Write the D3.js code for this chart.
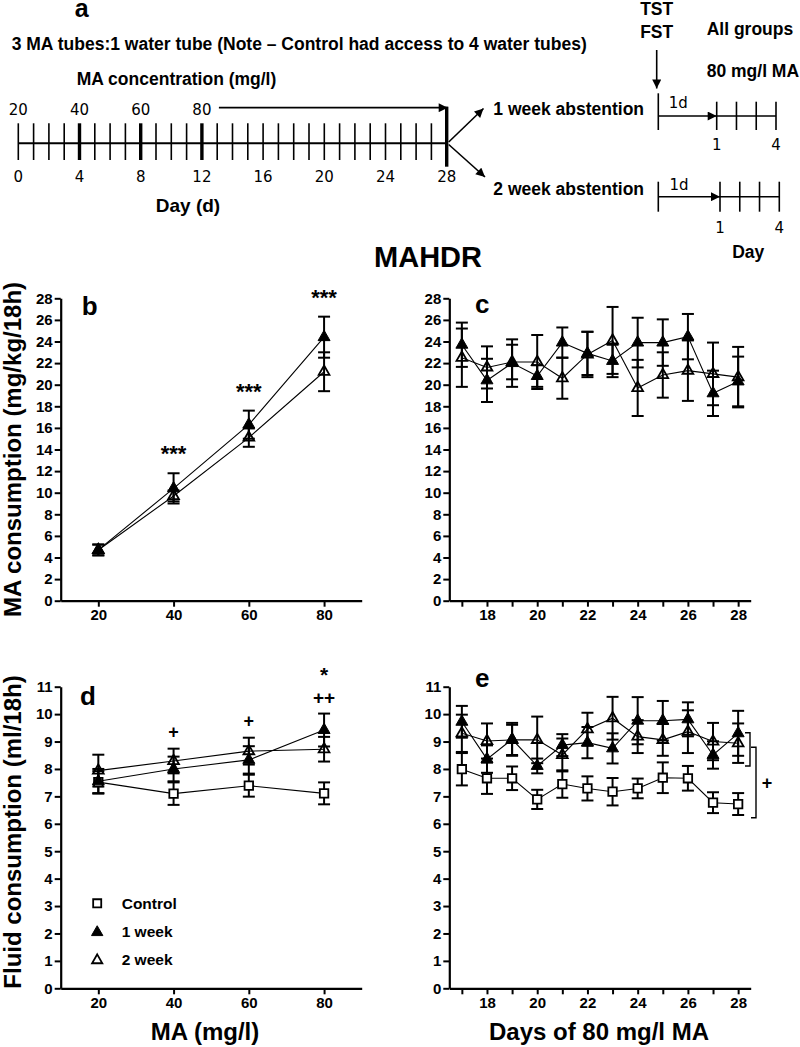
<!DOCTYPE html>
<html><head><meta charset="utf-8">
<script src="https://cdn.jsdelivr.net/npm/d3@7"></script>
<style>
html,body{margin:0;padding:0;background:#fff;}
svg{display:block;font-family:"Liberation Sans",Arial,Helvetica,sans-serif;}
</style></head><body>
<svg id="chart" width="800" height="1047"></svg>
<script>
// ---------------- DATA ----------------
// panel a (timeline)
const timelineDays = d3.range(0, 29);
const boldDays = [4, 8, 12];
const concLabels = ["20", "40", "60", "80"];
const concDays = [0, 4, 8, 12];
const dayLabels = [0, 4, 8, 12, 16, 20, 24, 28];
const testDays = [1, 2, 3, 4];
const testDayLabels = [1, 4];

// panels b & d (x = MA concentration)
const doseLevels = [20, 40, 60, 80];
const bWeek1 = [4.7, 10.4, 16.3, 24.4];
const bWeek1Sem = [0.5, 1.4, 1.3, 1.9];
const bWeek2 = [4.7, 9.7, 15.1, 21.2];
const bWeek2Sem = [0.5, 0.5, 0.85, 1.8];
const bStarDoses = [40, 60, 80];
const bStarText = ["***", "***", "***"];

const dControl = [7.52, 7.10, 7.39, 7.11];
const dControlSem = [0.40, 0.41, 0.40, 0.40];
const dWeek1 = [7.55, 8.00, 8.33, 9.42];
const dWeek1Sem = [0.45, 0.45, 0.50, 0.60];
const dWeek2 = [7.94, 8.29, 8.65, 8.72];
const dWeek2Sem = [0.58, 0.45, 0.49, 0.45];
const dMarkDoses = [40, 60, 80];
const dMarkRows = [["+"], ["+"], ["++", "*"]];

// panels c & e (x = day of 80 mg/l MA)
const maDays = [17, 18, 19, 20, 21, 22, 23, 24, 25, 26, 27, 28];
const cWeek1 = [23.7, 20.4, 22.0, 20.8, 23.9, 22.9, 22.2, 23.9, 23.9, 24.45, 19.2, 20.3];
const cWeek1Sem = [2.05, 2.0, 2.2, 1.0, 1.4, 2.0, 1.5, 2.3, 2.15, 2.1, 2.1, 2.3];
const cWeek2 = [22.5, 21.6, 22.1, 22.1, 20.6, 22.8, 24.1, 19.7, 20.9, 21.3, 21.0, 20.7];
const cWeek2Sem = [2.7, 1.95, 1.6, 2.5, 1.9, 2.1, 3.1, 2.6, 2.1, 2.8, 2.9, 2.8];

const eControl = [7.99, 7.66, 7.66, 6.89, 7.45, 7.29, 7.17, 7.29, 7.68, 7.66, 6.77, 6.72];
const eControlSem = [0.59, 0.57, 0.43, 0.35, 0.5, 0.44, 0.5, 0.36, 0.56, 0.45, 0.38, 0.4];
const eWeek1 = [9.72, 8.36, 9.08, 8.11, 8.87, 8.96, 8.75, 9.76, 9.76, 9.81, 8.51, 9.30];
const eWeek1Sem = [0.58, 0.5, 0.6, 0.27, 0.4, 0.57, 0.55, 0.86, 0.72, 0.62, 0.5, 0.82];
const eWeek2 = [9.30, 9.02, 9.06, 9.06, 8.51, 9.45, 9.85, 9.18, 9.06, 9.36, 9.00, 8.94];
const eWeek2Sem = [0.68, 0.64, 0.55, 0.85, 0.6, 0.6, 0.78, 0.6, 0.58, 0.78, 0.68, 0.72];
// bracket spans (data units) in panel e
const eBracketSmall = [9.32, 8.11];
const eBracketLarge = [8.79, 6.22];

const legendNames = ["Control", "1 week", "2 week"];
const legendTypes = ["square", "filled", "open"];

// ---------------- DRAW ----------------
const svg = d3.select("#chart");
svg.append("rect").attr("width", 800).attr("height", 1047).attr("fill", "#fff");
const FONT = '"Liberation Sans", Arial, Helvetica, sans-serif';
const RFONT = '"DejaVu Sans", Verdana, sans-serif';

const defs = svg.append("defs");
defs.append("marker").attr("id", "arr")
  .attr("viewBox", "0 0 10 10").attr("refX", 10).attr("refY", 5)
  .attr("markerWidth", 10).attr("markerHeight", 9)
  .attr("markerUnits", "userSpaceOnUse").attr("orient", "auto")
  .append("path").attr("d", "M0,0L10,5L0,10z").attr("fill", "#000");

function txt(g, x, y, s, size, weight, anchor, family) {
  return g.append("text").attr("x", x).attr("y", y).text(s)
    .attr("font-size", size).attr("font-weight", weight || "bold")
    .attr("text-anchor", anchor || "start")
    .attr("font-family", family || FONT).attr("fill", "#000");
}
function arrow(g, x1, y1, x2, y2, w) {
  g.append("line").attr("x1", x1).attr("y1", y1).attr("x2", x2).attr("y2", y2)
    .attr("stroke", "#000").attr("stroke-width", w || 1.6).attr("marker-end", "url(#arr)");
}
function vline(g, x, y1, y2, w) {
  g.append("line").attr("x1", x).attr("x2", x).attr("y1", y1).attr("y2", y2)
    .attr("stroke", "#000").attr("stroke-width", w || 1.6);
}

// ----- Panel a -----
const ga = svg.append("g");
txt(ga, 81.7, 17, "a", 25, "bold", "middle");
txt(ga, 11.7, 50, "3 MA tubes:1 water tube (Note \u2013 Control had access to 4 water tubes)", 17.5);
txt(ga, 76.7, 85, "MA concentration (mg/l)", 17.5);
const xa = d3.scaleLinear().domain([0, 28]).range([18.3, 446.7]);
const tlY = 143.3;
ga.append("line").attr("x1", xa(0)).attr("x2", xa(28)).attr("y1", tlY).attr("y2", tlY)
  .attr("stroke", "#000").attr("stroke-width", 2);
timelineDays.forEach(d => {
  if (d === 28) { vline(ga, xa(d), 106.7, 166.7, 3.4); return; }
  vline(ga, xa(d), 123.3, 160, boldDays.includes(d) ? 3.4 : 1.6);
});
concLabels.forEach((s, i) => txt(ga, xa(concDays[i]), 115, s, 15, "normal", "middle", RFONT));
dayLabels.forEach(d => txt(ga, xa(d), 181.7, String(d), 15, "normal", "middle", RFONT));
txt(ga, 188, 211.7, "Day (d)", 19, "bold", "middle");
arrow(ga, xa(12) + 17, 107.7, xa(28) + 1, 107.7, 1.8);
arrow(ga, xa(28) + 2, 142, 483.5, 108.5, 1.6);
arrow(ga, xa(28) + 2, 144.5, 485, 177, 1.6);
txt(ga, 493.3, 115, "1 week abstention", 17.5);
txt(ga, 493.3, 195, "2 week abstention", 17.5);
txt(ga, 656.7, 15, "TST", 17.5, "bold", "middle");
txt(ga, 656.7, 38.3, "FST", 17.5, "bold", "middle");
arrow(ga, 656.7, 50, 656.7, 88.5, 1.6);
txt(ga, 706.7, 35, "All groups", 17.5);
txt(ga, 706.7, 76.7, "80 mg/l MA", 17.5);
// 1 week test timeline
const xs1 = d3.scaleLinear().domain([1, 4]).range([716.7, 776]);
vline(ga, 658.3, 93.3, 130);
arrow(ga, 658.3, 116, xs1(1), 116, 1.6);
txt(ga, 678.3, 108.3, "1d", 15, "normal", "middle", RFONT);
ga.append("line").attr("x1", xs1(1)).attr("x2", xs1(4)).attr("y1", 116).attr("y2", 116).attr("stroke", "#000").attr("stroke-width", 1.6);
testDays.forEach(d => vline(ga, xs1(d), 101.7, 130));
testDayLabels.forEach(d => txt(ga, xs1(d), 150, String(d), 15, "normal", "middle", RFONT));
// 2 week test timeline
const xs2 = d3.scaleLinear().domain([1, 4]).range([720, 779.3]);
vline(ga, 658.3, 181.7, 211.7);
arrow(ga, 658.3, 196.7, xs2(1), 196.7, 1.6);
txt(ga, 679, 190, "1d", 15, "normal", "middle", RFONT);
ga.append("line").attr("x1", xs2(1)).attr("x2", xs2(4)).attr("y1", 196.7).attr("y2", 196.7).attr("stroke", "#000").attr("stroke-width", 1.6);
testDays.forEach(d => vline(ga, xs2(d), 181.7, 211.7));
testDayLabels.forEach(d => txt(ga, xs2(d), 233.3, String(d), 15, "normal", "middle", RFONT));
txt(ga, 748.3, 258.3, "Day", 17.5, "bold", "middle");

// title
txt(svg, 428, 267, "MAHDR", 29, "bold", "middle");

// ----- panel helper -----
function drawMarker(g, type, cx, cy, scale) {
  const s = scale || 1;
  if (type === "square") {
    g.append("path").attr("d", d3.symbol().type(d3.symbolSquare).size(72 * s * s)())
      .attr("transform", `translate(${cx},${cy})`).attr("fill", "#fff").attr("stroke", "#000").attr("stroke-width", 1.8);
  } else if (type === "filled") {
    g.append("path").attr("d", d3.symbol().type(d3.symbolTriangle).size(62 * s * s)())
      .attr("transform", `translate(${cx},${cy})`).attr("fill", "#000").attr("stroke", "#000").attr("stroke-width", 1);
  } else {
    g.append("path").attr("d", d3.symbol().type(d3.symbolTriangle).size(50 * s * s)())
      .attr("transform", `translate(${cx},${cy})`).attr("fill", "none").attr("stroke", "#000").attr("stroke-width", 1.8);
  }
}

function drawPanel(opt) {
  const x = d3.scaleLinear().domain(opt.xDomain).range(opt.xRange);
  const y = d3.scaleLinear().domain(opt.yDomain).range(opt.yRange);
  const g = svg.append("g");
  const yAxis = d3.axisLeft(y).tickValues(opt.yTicks).tickSize(6).tickSizeOuter(0).tickPadding(2).tickFormat(d3.format("d"));
  g.append("g").attr("transform", `translate(${opt.xRange[0]},0)`).call(yAxis);
  const xAxis = d3.axisBottom(x).tickValues(opt.xTicks).tickSize(6).tickSizeOuter(0).tickPadding(3)
    .tickFormat(d => opt.xLabels.includes(d) ? String(d) : "");
  g.append("g").attr("transform", `translate(0,${opt.yRange[0]})`).call(xAxis);
  g.selectAll(".domain").attr("stroke", "#000").attr("stroke-width", 2.2);
  g.selectAll(".tick line").attr("stroke", "#000").attr("stroke-width", 2);
  g.selectAll(".tick text").attr("font-size", 15).attr("font-weight", "bold")
    .attr("font-family", FONT).attr("fill", "#000");

  const line = d3.line().x((d, i) => x(opt.xs[i])).y(d => y(d));
  opt.series.forEach(s => {
    g.append("path").attr("d", line(s.vals)).attr("fill", "none").attr("stroke", "#000").attr("stroke-width", 1.1);
  });
  opt.series.forEach(s => {
    s.vals.forEach((v, i) => {
      const cx = x(opt.xs[i]), hi = y(v + s.sem[i]), lo = y(v - s.sem[i]);
      g.append("line").attr("x1", cx).attr("x2", cx).attr("y1", hi).attr("y2", lo).attr("stroke", "#000").attr("stroke-width", 2);
      [hi, lo].forEach(yy => g.append("line").attr("x1", cx - 6).attr("x2", cx + 6).attr("y1", yy).attr("y2", yy)
        .attr("stroke", "#000").attr("stroke-width", 2));
    });
  });
  opt.series.forEach(s => {
    s.vals.forEach((v, i) => drawMarker(g, s.type, x(opt.xs[i]), y(v)));
  });
  txt(g, opt.label[1], opt.label[2], opt.label[0], 26, "bold", "start");
  return { x, y, g };
}

const bc_y = [600.7, 298.3];
const de_y = [988.3, 686.7];
const leftX = [60.7, 361.7];
const rightX = [449.3, 750.7];
const tick28 = d3.range(0, 29, 2);
const tick11 = d3.range(0, 12, 1);

// ----- panel b -----
const pb = drawPanel({
  xDomain: [10, 90], xRange: leftX, yDomain: [0, 28], yRange: bc_y,
  yTicks: tick28, xTicks: doseLevels, xLabels: doseLevels, xs: doseLevels,
  series: [
    { vals: bWeek2, sem: bWeek2Sem, type: "open" },
    { vals: bWeek1, sem: bWeek1Sem, type: "filled" }
  ],
  label: ["b", 81.7, 315]
});
bStarDoses.forEach((d, k) => {
  const i = doseLevels.indexOf(d);
  const top = Math.min(pb.y(bWeek1[i] + bWeek1Sem[i]), pb.y(bWeek2[i] + bWeek2Sem[i]));
  txt(pb.g, pb.x(d), top - 24 + 12, bStarText[k], 22, "bold", "middle");
});

// ----- panel c -----
drawPanel({
  xDomain: [16.5, 28.5], xRange: rightX, yDomain: [0, 28], yRange: bc_y,
  yTicks: tick28, xTicks: maDays, xLabels: maDays.filter(d => d % 2 === 0), xs: maDays,
  series: [
    { vals: cWeek2, sem: cWeek2Sem, type: "open" },
    { vals: cWeek1, sem: cWeek1Sem, type: "filled" }
  ],
  label: ["c", 475, 313.3]
});

// ----- panel d -----
const pd = drawPanel({
  xDomain: [10, 90], xRange: leftX, yDomain: [0, 11], yRange: de_y,
  yTicks: tick11, xTicks: doseLevels, xLabels: doseLevels, xs: doseLevels,
  series: [
    { vals: dControl, sem: dControlSem, type: "square" },
    { vals: dWeek2, sem: dWeek2Sem, type: "open" },
    { vals: dWeek1, sem: dWeek1Sem, type: "filled" }
  ],
  label: ["d", 80, 705]
});
dMarkDoses.forEach((d, k) => {
  const i = doseLevels.indexOf(d);
  const top = Math.min(pd.y(dWeek1[i] + dWeek1Sem[i]), pd.y(dWeek2[i] + dWeek2Sem[i]));
  dMarkRows[k].forEach((s, r) => {
    if (s.includes("*")) {
      const cy = top - 43;
      txt(pd.g, pd.x(d), cy + 11.5, s, 21, "bold", "middle");
    } else {
      const cy = r === 0 && s.length > 1 ? top - 16 : top - 17.5;
      txt(pd.g, pd.x(d), cy + 6.5, s, s.length > 1 ? 19 : 18, "bold", "middle");
    }
  });
});
// legend
legendNames.forEach((n, i) => {
  const cy = 903.3 + i * 28;
  drawMarker(pd.g, legendTypes[i], 97.2, legendTypes[i] === "square" ? cy : cy + 1, 0.95);
  txt(pd.g, 121.7, cy + 5.3, n, 15.5, "bold", "start");
});

// ----- panel e -----
const pe = drawPanel({
  xDomain: [16.5, 28.5], xRange: rightX, yDomain: [0, 11], yRange: de_y,
  yTicks: tick11, xTicks: maDays, xLabels: maDays.filter(d => d % 2 === 0), xs: maDays,
  series: [
    { vals: eControl, sem: eControlSem, type: "square" },
    { vals: eWeek2, sem: eWeek2Sem, type: "open" },
    { vals: eWeek1, sem: eWeek1Sem, type: "filled" }
  ],
  label: ["e", 475, 686.7]
});
function bracket(g, x, y1, y2) {
  g.append("path").attr("d", `M${x - 5},${y1}H${x}V${y2}H${x - 5}`)
    .attr("fill", "none").attr("stroke", "#000").attr("stroke-width", 1.4);
}
bracket(pe.g, 750, pe.y(eBracketSmall[0]), pe.y(eBracketSmall[1]));
bracket(pe.g, 756, pe.y(eBracketLarge[0]), pe.y(eBracketLarge[1]));
txt(pe.g, 767, pe.y((eBracketLarge[0] + eBracketLarge[1]) / 2) + 6.5, "+", 18, "bold", "middle");

// ----- axis titles -----
svg.append("text").attr("transform", "translate(12,449.5) rotate(-90)").attr("dy", "0.36em")
  .attr("text-anchor", "middle").attr("font-size", 24).attr("font-weight", "bold")
  .attr("font-family", FONT).text("MA consumption (mg/kg/18h)");
svg.append("text").attr("transform", "translate(12,832) rotate(-90)").attr("dy", "0.36em")
  .attr("text-anchor", "middle").attr("font-size", 24).attr("font-weight", "bold")
  .attr("font-family", FONT).text("Fluid consumption (ml/18h)");
txt(svg, 205, 1040, "MA (mg/l)", 24, "bold", "middle");
txt(svg, 599, 1040, "Days of 80 mg/l MA", 24, "bold", "middle");
</script>
</body></html>
